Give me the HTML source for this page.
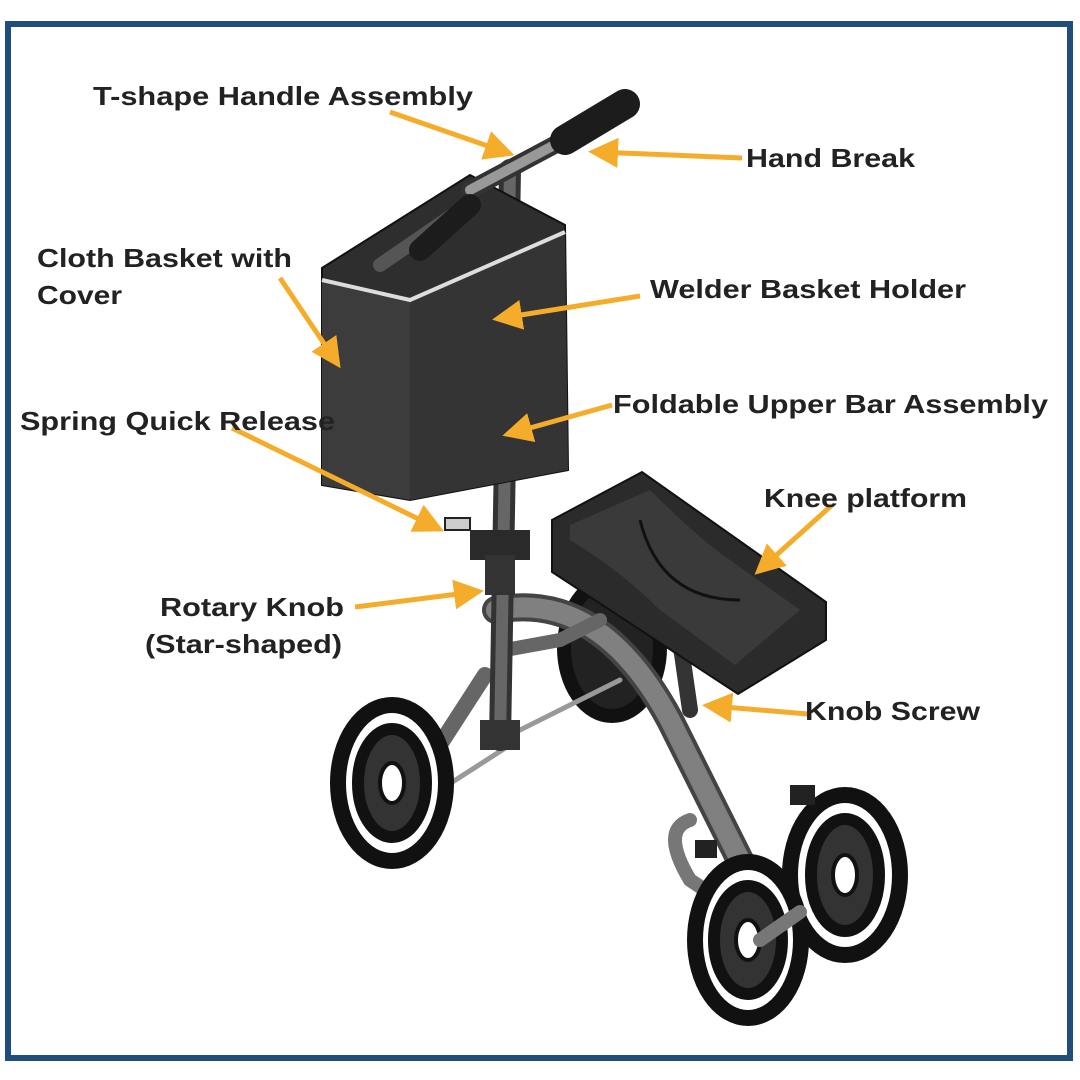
<!DOCTYPE html>
<html><head><meta charset="utf-8"><style>
html,body{margin:0;padding:0;background:#fff}
svg{display:block}
text{font-family:"Liberation Sans",Arial,sans-serif;font-weight:bold;font-size:26px;fill:#222}
</style></head><body>
<svg width="1080" height="1080" viewBox="0 0 1080 1080" xmlns="http://www.w3.org/2000/svg">
<defs>
<marker id="ah" markerWidth="6" markerHeight="6" refX="4" refY="3" orient="auto" markerUnits="strokeWidth">
<path d="M0,0 L6,3 L0,6 z" fill="#f4ac2a"/></marker>
</defs>
<rect x="8" y="24" width="1062" height="1034" fill="#fff" stroke="#1f4e7a" stroke-width="6"/>

<!-- rear hidden wheel -->
<ellipse cx="612" cy="648" rx="48" ry="68" fill="#222" stroke="#111" stroke-width="14"/>
<!-- frame -->
<g stroke-linecap="round" fill="none">
<path d="M496 610 Q600 590 670 720 L790 960" stroke="#444" stroke-width="28"/>
<path d="M496 610 Q600 590 670 720 L790 960" stroke="#808080" stroke-width="20"/>
<path d="M485 675 L430 760" stroke="#666" stroke-width="16"/>
<path d="M505 650 L560 640 L600 620" stroke="#666" stroke-width="14"/>
<path d="M500 740 L620 680" stroke="#999" stroke-width="5"/>
<path d="M440 790 L510 745" stroke="#999" stroke-width="5"/>
<path d="M690 820 Q660 830 690 880 L720 900" stroke="#777" stroke-width="14"/>
<path d="M760 940 L830 890" stroke="#777" stroke-width="14"/>
<path d="M680 640 L690 710" stroke="#333" stroke-width="16"/>
<!-- stem -->
<path d="M510 170 L500 740" stroke="#333" stroke-width="22"/>
<path d="M510 170 L500 740" stroke="#666" stroke-width="12"/>
</g>
<rect x="480" y="720" width="40" height="30" fill="#333"/>
<rect x="470" y="530" width="60" height="30" fill="#2a2a2a"/>
<rect x="445" y="518" width="25" height="12" fill="#ccc" stroke="#222" stroke-width="2"/>
<rect x="485" y="555" width="30" height="40" fill="#333"/>

<!-- wheels -->
<g stroke="#111">
<ellipse cx="392" cy="783" rx="54" ry="78" stroke-width="16" fill="#fff"/>
<ellipse cx="392" cy="783" rx="34" ry="54" stroke-width="12" fill="#333"/>
<ellipse cx="392" cy="783" rx="12" ry="20" stroke-width="4" fill="#fff"/>
<ellipse cx="845" cy="875" rx="55" ry="80" stroke-width="16" fill="#fff"/>
<ellipse cx="845" cy="875" rx="34" ry="56" stroke-width="12" fill="#333"/>
<ellipse cx="845" cy="875" rx="12" ry="20" stroke-width="4" fill="#fff"/>
<ellipse cx="748" cy="940" rx="53" ry="78" stroke-width="16" fill="#fff"/>
<ellipse cx="748" cy="940" rx="34" ry="54" stroke-width="12" fill="#333"/>
<ellipse cx="748" cy="940" rx="12" ry="20" stroke-width="4" fill="#fff"/>
</g>
<path d="M760 940 L800 912" stroke="#777" stroke-width="14" stroke-linecap="round"/>
<rect x="790" y="785" width="25" height="20" fill="#222"/>
<rect x="695" y="840" width="22" height="18" fill="#222"/>

<!-- knee platform -->
<path d="M552 520 L642 472 L826 602 L826 640 L738 694 L552 572 Z" fill="#2b2b2b" stroke="#111" stroke-width="2"/>
<path d="M570 525 L650 490 Q700 540 730 560 L800 610 L735 665 L660 610 Q620 570 570 540 Z" fill="#3a3a3a"/>
<path d="M640 520 Q660 600 740 600" stroke="#111" stroke-width="3" fill="none"/>

<!-- basket -->
<path d="M322 268 L470 175 L565 225 L568 470 L410 500 L322 485 Z" fill="#2e2e2e" stroke="#111" stroke-width="2"/>
<path d="M322 280 L410 300 L410 500 L322 485 Z" fill="#3c3c3c"/>
<path d="M410 300 L565 232 L568 470 L410 500 Z" fill="#343434"/>
<path d="M322 280 L410 300 L565 232" stroke="#ddd" stroke-width="4" fill="none"/>
<path d="M380 265 L460 210" stroke="#555" stroke-width="14" stroke-linecap="round"/>

<!-- handlebar -->
<g stroke-linecap="round">
<path d="M470 190 L620 110" stroke="#333" stroke-width="18"/>
<path d="M470 190 L560 142" stroke="#999" stroke-width="10"/>
<path d="M565 140 L625 104" stroke="#1c1c1c" stroke-width="30"/>
<path d="M420 250 L470 205" stroke="#1c1c1c" stroke-width="22"/>
</g>

<!-- arrows -->
<g stroke="#f4ac2a" stroke-width="5" fill="none" marker-end="url(#ah)">
<line x1="390" y1="112" x2="505" y2="152"/>
<line x1="742" y1="158" x2="598" y2="152"/>
<line x1="280" y1="278" x2="335" y2="360"/>
<line x1="640" y1="296" x2="502" y2="318"/>
<line x1="612" y1="405" x2="512" y2="433"/>
<line x1="232" y1="428" x2="435" y2="527"/>
<line x1="832" y1="505" x2="762" y2="568"/>
<line x1="355" y1="607" x2="474" y2="592"/>
<line x1="808" y1="714" x2="712" y2="706"/>
</g>

<!-- labels -->
<g>
<text x="93" y="105" textLength="380" lengthAdjust="spacingAndGlyphs">T-shape Handle Assembly</text>
<text x="746" y="167" textLength="169" lengthAdjust="spacingAndGlyphs">Hand Break</text>
<text x="37" y="267" textLength="255" lengthAdjust="spacingAndGlyphs">Cloth Basket with</text>
<text x="37" y="304" textLength="85" lengthAdjust="spacingAndGlyphs">Cover</text>
<text x="650" y="298" textLength="316" lengthAdjust="spacingAndGlyphs">Welder Basket Holder</text>
<text x="613" y="413" textLength="435" lengthAdjust="spacingAndGlyphs">Foldable Upper Bar Assembly</text>
<text x="20" y="430" textLength="315" lengthAdjust="spacingAndGlyphs">Spring Quick Release</text>
<text x="764" y="507" textLength="203" lengthAdjust="spacingAndGlyphs">Knee platform</text>
<text x="160" y="616" textLength="184" lengthAdjust="spacingAndGlyphs">Rotary Knob</text>
<text x="145" y="653" textLength="197" lengthAdjust="spacingAndGlyphs">(Star-shaped)</text>
<text x="805" y="720" textLength="175" lengthAdjust="spacingAndGlyphs">Knob Screw</text>
</g>
</svg>
</body></html>
